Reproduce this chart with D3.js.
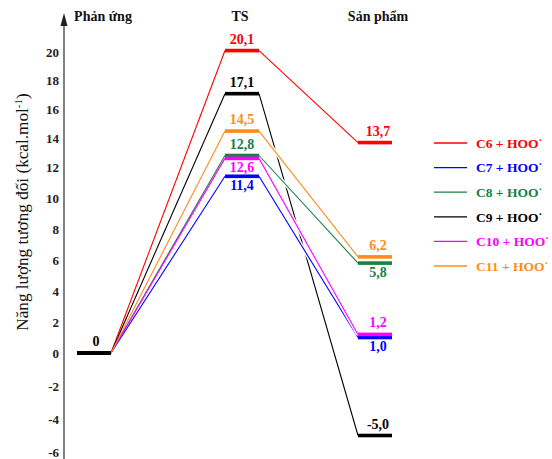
<!DOCTYPE html>
<html>
<head>
<meta charset="utf-8">
<script src="https://cdn.jsdelivr.net/npm/d3@7"></script>
<style>
  html, body { margin: 0; padding: 0; background: #fff; }
  svg { display: block; }
  text { font-family: "Liberation Serif", "Times New Roman", serif; }
</style>
</head>
<body>
<svg id="chart" width="552" height="459"></svg>
<script>
// Reaction stages and the energy of each system at each stage (kcal/mol)
const stages   = ["Phản ứng", "TS", "Sản phẩm"];
const systems  = ["C6", "C7", "C8", "C9", "C10", "C11"];
const reactant = [0, 0, 0, 0, 0, 0];
const ts       = [20.1, 11.4, 12.8, 17.1, 12.6, 14.5];
const product  = [13.7, 1.0, 5.8, -5.0, 1.2, 6.2];
const yTicks   = [-6, -4, -2, 0, 2, 4, 6, 8, 10, 12, 14, 16, 18, 20];

const colors = {
  C6: "#ff0000", C7: "#0000ff", C8: "#1a7f45",
  C9: "#000000", C10: "#ff00ff", C11: "#ff8c1a"
};
// where each value label sits relative to its level bar
const tsLabelSide      = { C6: "up", C7: "down", C8: "up", C9: "up", C10: "down", C11: "up" };
const productLabelSide = { C6: "up", C7: "down", C8: "down", C9: "up", C10: "up", C11: "up" };

const svg = d3.select("#chart");
const fmt = d3.formatLocale({ decimal: ",", thousands: ".", grouping: [3], currency: ["", ""], minus: "-" });
const f1 = fmt.format(".1f");
const f0 = fmt.format("d");

const axisX = 64;
const y = d3.scaleLinear().domain([-6, 0, 12, 20]).range([452, 353, 167, 52]);
const x = d3.scaleOrdinal().domain(stages).range([94, 242, 375]);
const halfW = 17;
const barH = 3.6;
const upOff = -7, downOff = 13.5;

// vertical energy axis with arrow head
svg.append("line")
  .attr("x1", axisX).attr("x2", axisX)
  .attr("y1", 22).attr("y2", 459)
  .attr("stroke", "#808080").attr("stroke-width", 2);
svg.append("path")
  .attr("d", d3.line()([[axisX - 3.5, 26], [axisX, 13], [axisX + 3.5, 26]]) + "Z")
  .attr("fill", "#222");

// tick labels (no tick marks)
svg.append("g").selectAll("text").data(yTicks).join("text")
  .attr("x", 59).attr("y", d => y(d))
  .attr("dy", "0.35em")
  .attr("text-anchor", "end")
  .attr("font-weight", "bold").attr("font-size", 13)
  .attr("fill", "#222")
  .text(d => f0(d));

// axis title
const yt = svg.append("text")
  .attr("transform", "translate(28,212) rotate(-90)")
  .attr("text-anchor", "middle")
  .attr("font-size", 17.2)
  .attr("fill", "#111");
yt.append("tspan").text("Năng lượng tương đối (kcal.mol");
yt.append("tspan").attr("dy", -6).attr("font-size", 11).text("-1");
yt.append("tspan").attr("dy", 6).text(")");

// stage headers
const headerShift = [9, -2, 3];
svg.append("g").selectAll("text").data(stages).join("text")
  .attr("x", (d, i) => x(d) + headerShift[i]).attr("y", 21)
  .attr("text-anchor", "middle")
  .attr("font-weight", "bold").attr("font-size", 14)
  .attr("fill", "#111")
  .text(d => d);

const rows = systems.map((s, i) => ({ s, r: reactant[i], t: ts[i], p: product[i], c: colors[s] }));

// connectors: reactant -> TS
const gLines = svg.append("g").attr("fill", "none");
rows.forEach(d => {
  gLines.append("line")
    .attr("x1", x(stages[0]) + halfW).attr("y1", y(d.r))
    .attr("x2", x(stages[1]) - halfW).attr("y2", y(d.t))
    .attr("stroke", d.c).attr("stroke-width", 1.1);
});

// connectors: TS -> product (the C9 line is drawn first, others break it)
const tsToProd = rows.slice().sort((a, b) => (a.s === "C9" ? -1 : b.s === "C9" ? 1 : 0));
tsToProd.forEach(d => {
  const x1 = x(stages[1]) + halfW, x2 = x(stages[2]) - halfW;
  if (d.s !== "C9" && d.s !== "C6") {
    gLines.append("line")
      .attr("x1", x1).attr("y1", y(d.t)).attr("x2", x2).attr("y2", y(d.p))
      .attr("stroke", "#fff").attr("stroke-width", 4);
  }
  gLines.append("line")
    .attr("x1", x1).attr("y1", y(d.t)).attr("x2", x2).attr("y2", y(d.p))
    .attr("stroke", d.c).attr("stroke-width", 1.1);
});

// level bars
const gBars = svg.append("g");
gBars.append("rect")
  .attr("x", x(stages[0]) - halfW).attr("y", y(0) - 2)
  .attr("width", 2 * halfW).attr("height", 4)
  .attr("fill", "#000");
rows.forEach(d => {
  [[stages[1], d.t], [stages[2], d.p]].forEach(([st, v]) => {
    gBars.append("rect")
      .attr("x", x(st) - halfW).attr("y", y(v) - barH / 2)
      .attr("width", 2 * halfW).attr("height", barH)
      .attr("fill", d.c);
  });
});

// value labels
const gLab = svg.append("g")
  .attr("font-weight", "bold").attr("font-size", 14)
  .attr("text-anchor", "middle");
gLab.append("text")
  .attr("x", x(stages[0]) + 2).attr("y", y(0) + upOff)
  .attr("fill", "#000").text(f0(0));
rows.forEach(d => {
  gLab.append("text")
    .attr("x", x(stages[1])).attr("y", y(d.t) + (tsLabelSide[d.s] === "up" ? upOff : downOff))
    .attr("fill", d.c).text(f1(d.t));
  gLab.append("text")
    .attr("x", x(stages[2]) + 3).attr("y", y(d.p) + (productLabelSide[d.s] === "up" ? upOff : downOff))
    .attr("fill", d.c).text(f1(d.p));
});

// legend
const legY = d3.scalePoint().domain(systems).range([143, 266]);
const leg = svg.append("g").selectAll("g").data(rows).join("g")
  .attr("transform", d => `translate(0,${legY(d.s)})`);
leg.append("line")
  .attr("x1", 434).attr("x2", 467)
  .attr("stroke", d => d.c).attr("stroke-width", 1.3);
const lt = leg.append("text")
  .attr("x", 476).attr("dy", "0.35em")
  .attr("font-weight", "bold").attr("font-size", 13.5)
  .attr("fill", d => d.c);
lt.append("tspan").text(d => d.s + " + HOO");
lt.append("tspan").attr("dy", -4).attr("font-size", 11).text("·");
</script>
</body>
</html>
